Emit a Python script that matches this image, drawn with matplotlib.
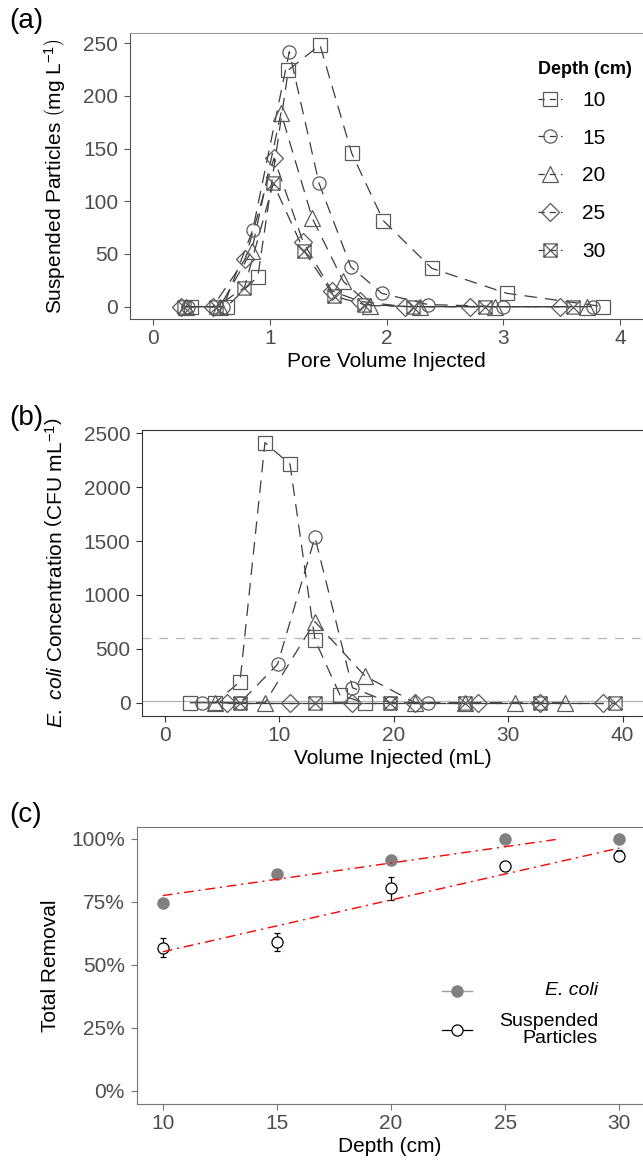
import numpy as np
import matplotlib
matplotlib.use('Agg')
import matplotlib.pyplot as plt
from matplotlib.path import Path
from matplotlib.lines import Line2D

plt.rcParams['font.family'] = ['Liberation Sans', 'DejaVu Sans']
plt.rcParams['mathtext.fontset'] = 'custom'
plt.rcParams['mathtext.rm'] = 'Liberation Sans'
plt.rcParams['mathtext.it'] = 'Liberation Sans:italic'
plt.rcParams['mathtext.bf'] = 'Liberation Sans:bold'

depth_labels = ['10', '15', '20', '25', '30']

# (a) suspended particles (mg/L) vs pore volume injected
pv_10 = [0.32, 0.63, 0.895, 1.157, 1.428, 1.700, 1.971, 2.386, 3.028, 3.856]
sp_10 = [0, 0, 28.5, 224.7, 248.4, 145.6, 81.6, 36.4, 12.7, 0]
pv_15 = [0.30, 0.60, 0.852, 1.165, 1.420, 1.692, 1.957, 2.354, 2.997, 3.768]
sp_15 = [0, 0, 72.8, 242, 117, 38, 12.7, 2, 0, 0]
pv_20 = [0.28, 0.57, 0.843, 1.094, 1.362, 1.628, 1.86, 2.285, 2.93, 3.716]
sp_20 = [0, 0, 53, 184, 84, 24, 1, 0, 0, 0]
pv_25 = [0.24, 0.51, 0.786, 1.034, 1.285, 1.529, 1.771, 2.157, 2.714, 3.485]
sp_25 = [0, 0, 45, 141, 61, 15, 5, 0, 0, 0]
pv_30 = [0.26, 0.54, 0.780, 1.028, 1.291, 1.548, 1.808, 2.225, 2.842, 3.597]
sp_30 = [0, 0, 18, 117, 53, 10, 2, 0, 0, 0]

# (b) E. coli (CFU/mL) vs volume injected (mL)
vol_10 = [2.19, 4.37, 6.56, 8.74, 10.93, 13.11, 15.30, 17.48]
ec_10 = [0, 0, 195, 2413, 2212, 582, 71, 0]
vol_15 = [3.28, 6.56, 9.84, 13.11, 16.39, 19.67, 22.95]
ec_15 = [0, 0, 356, 1535, 139, 0, 0]
vol_20 = [4.37, 8.74, 13.11, 17.48, 21.86, 26.23, 30.60, 34.97]
ec_20 = [0, 0, 752, 248, 0, 0, 0, 0]
vol_25 = [5.46, 10.93, 16.39, 21.86, 27.32, 32.79, 38.25]
ec_25 = [0, 0, 0, 0, 0, 0, 0]
vol_30 = [6.56, 13.11, 19.67, 26.23, 32.79, 39.34]
ec_30 = [0, 0, 0, 0, 0, 0]
ec_threshold = 600
ec_limit = 20

# (c) total removal vs depth
depth = [10, 15, 20, 25, 30]
ecoli_removal = [0.747, 0.860, 0.917, 1.0, 1.0]
sp_removal = [0.569, 0.592, 0.804, 0.893, 0.933]
sp_err = [0.038, 0.035, 0.045, 0.013, 0.022]
pct_ticks = [0, 0.25, 0.5, 0.75, 1.0]
pct_labels = ['0%', '25%', '50%', '75%', '100%']

# square with an X (ggplot shape 7)
boxx = Path([(-1, -1), (1, -1), (1, 1), (-1, 1), (-1, -1), (-1, -1), (1, 1), (-1, 1), (1, -1)],
            [Path.MOVETO, Path.LINETO, Path.LINETO, Path.LINETO, Path.CLOSEPOLY,
             Path.MOVETO, Path.LINETO, Path.MOVETO, Path.LINETO])
markers = ['s', 'o', '^', 'D', boxx]
msizes = [9.5, 9.5, 11.5, 9.5, 9.5]
mcol = '#5a5a5a'
lcol = '#3d3d3d'
dash = (10, 6.5)


def style_axes(ax, spine_col, top_col=None):
    for s in ['left', 'bottom', 'top']:
        ax.spines[s].set_color(spine_col)
        ax.spines[s].set_linewidth(0.8)
    if top_col:
        ax.spines['top'].set_color(top_col)
    ax.spines['right'].set_visible(False)
    ax.tick_params(direction='out', length=4.5, width=0.8, color=spine_col,
                   labelcolor='#4d4d4d', labelsize=15)
    ax.tick_params(axis='x', pad=2.7)
    ax.tick_params(axis='y', pad=4)


W, H = 643, 1166
fig = plt.figure(figsize=(W / 100, H / 100), dpi=100)


def px_axes(l, t, r, b):
    return fig.add_axes([l / W, 1 - b / H, (r - l) / W, (b - t) / H])


# ---- (a)
ax1 = px_axes(130, 33.3, 643, 319.3)
series_a = [(pv_10, sp_10), (pv_15, sp_15), (pv_20, sp_20), (pv_25, sp_25), (pv_30, sp_30)]
handles = []
for (x, y), m, ms, lab in zip(series_a, markers, msizes, depth_labels):
    ax1.plot(x, y, color=lcol, lw=0.9, dashes=dash, zorder=2)
    ax1.plot(x, y, ls='none', marker=m, ms=ms, mfc='none', mec=mcol, mew=0.9, zorder=3)
    handles.append(Line2D([], [], color=lcol, lw=0.9, dashes=(5, 4), marker=m, ms=ms,
                          mfc='none', mec=mcol, mew=0.9))
ax1.set_xlim(-0.2, 4.196)
ax1.set_ylim(-12, 259.5)
ax1.set_xticks([0, 1, 2, 3, 4])
ax1.set_yticks([0, 50, 100, 150, 200, 250])
style_axes(ax1, '#555555', '#9a9a9a')
ax1.set_xlabel('Pore Volume Injected', fontsize=15, labelpad=3)
ax1.set_ylabel(r'Suspended Particles $\left(\mathrm{mg\ L^{-1}}\right)$', fontsize=15)
ax1.yaxis.set_label_coords(-0.12, 0.5)
leg = ax1.legend(handles, depth_labels, title='Depth (cm)', frameon=False, fontsize=15,
                 title_fontproperties={'weight': 'bold', 'size': 13}, alignment='left',
                 loc='upper left', bbox_to_anchor=(528 / W, 1 - 51 / H),
                 bbox_transform=fig.transFigure, borderpad=0, handlelength=1.15,
                 handletextpad=0.95, labelspacing=0.9)
leg._legend_box.sep = 9

# ---- (b)
ax2 = px_axes(142.3, 430, 643, 716)
ax2.axhline(ec_threshold, color='#b5b5b5', lw=0.9, dashes=(7, 6.5), zorder=1)
ax2.axhline(ec_limit, color='#b5b5b5', lw=0.9, zorder=1)
series_b = [(vol_10, ec_10), (vol_15, ec_15), (vol_20, ec_20), (vol_25, ec_25), (vol_30, ec_30)]
for (x, y), m, ms in zip(series_b, markers, msizes):
    ax2.plot(x, y, color=lcol, lw=0.9, dashes=dash, zorder=2)
    ax2.plot(x, y, ls='none', marker=m, ms=ms, mfc='none', mec=mcol, mew=0.9, zorder=3)
ax2.set_xlim(-1.98, 41.78)
ax2.set_ylim(-123, 2530)
ax2.set_xticks([0, 10, 20, 30, 40])
ax2.set_yticks([0, 500, 1000, 1500, 2000, 2500])
style_axes(ax2, '#333333')
ax2.set_xlabel('Volume Injected (mL)', fontsize=15, labelpad=3)
ax2.set_ylabel(r'$\mathit{E.\ coli}$ Concentration $\left(\mathrm{CFU\ mL^{-1}}\right)$', fontsize=15)
ax2.yaxis.set_label_coords(-0.15, 0.5)

# ---- (c)
ax3 = px_axes(136.7, 826.7, 643, 1104)
ax3.plot(depth, ecoli_removal, ls='none', marker='o', ms=8, color='#808080', zorder=3)
ax3.errorbar(depth, sp_removal, yerr=sp_err, fmt='o', ms=8, mfc='white', mec='black',
             mew=0.9, ecolor='black', elinewidth=0.9, capsize=2.4, capthick=0.9, zorder=3)
# linear fits, dropped where they leave the 0-100% range
xs = np.linspace(10, 30, 80)
for yv in (ecoli_removal, sp_removal):
    a, b = np.polyfit(depth, yv, 1)
    ys = a * xs + b
    keep = ys <= 1.0
    ax3.plot(xs[keep], ys[keep], color='red', lw=1.0, dashes=(7, 3.5, 1.5, 3.5), zorder=4)
ax3.set_xlim(8.86, 31.04)
ax3.set_ylim(-0.0516, 1.0488)
ax3.set_xticks(depth)
ax3.set_yticks(pct_ticks)
ax3.set_yticklabels(pct_labels)
style_axes(ax3, '#777777')
ax3.set_xlabel('Depth (cm)', fontsize=15, labelpad=3)
ax3.set_ylabel('Total Removal', fontsize=15)
ax3.yaxis.set_label_coords(-0.151, 0.5)

# legend for (c), text right aligned like the original
tr = ax3.transAxes
ax3.plot([0.6025, 0.6618], [0.4086, 0.4086], color='#a0a0a0', lw=1.0, transform=tr)
ax3.plot([0.632], [0.4086], 'o', ms=8, color='#808080', transform=tr)
ax3.plot([0.6025, 0.6618], [0.267, 0.267], color='black', lw=0.9, transform=tr)
ax3.plot([0.632], [0.267], 'o', ms=8, mfc='white', mec='black', mew=0.9, transform=tr)
ax3.text(0.911, 0.4086, 'E. coli', style='italic', fontsize=14, ha='right', va='center', transform=tr)
ax3.text(0.911, 0.267, 'Suspended\nParticles', fontsize=14, ha='right', va='center',
         multialignment='right', linespacing=1.0, transform=tr)

# panel labels
for lab, ypx in [('(a)', 21), ('(b)', 418), ('(c)', 815)]:
    fig.text(9 / W, 1 - ypx / H, lab, fontsize=20, ha='left', va='center')

fig.savefig('out.png', dpi=100)
